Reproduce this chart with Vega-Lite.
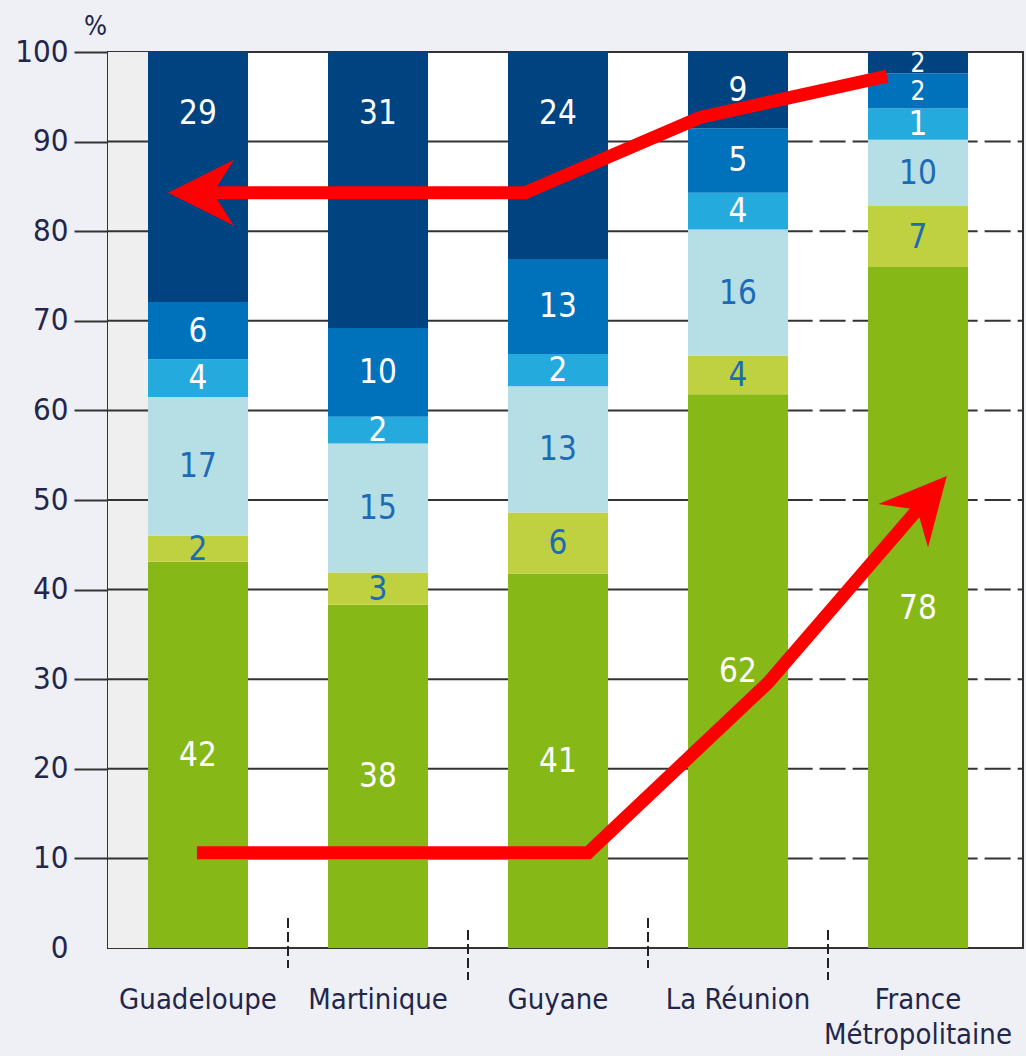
{
  "$schema": "https://vega.github.io/schema/vega-lite/v6.json",
  "width": 915,
  "height": 896,
  "autosize": {"type": "none"},
  "padding": {"left": 108, "top": 52, "right": 3, "bottom": 108},
  "background": "#eef0f6",
  "config": {
    "view": {"fill": "white", "stroke": "#333333", "strokeWidth": 2},
    "font": "'DejaVu Sans Condensed', Roboto, sans-serif",
    "axisY": {
      "grid": false,
      "domain": false,
      "tickSize": 34,
      "tickColor": "#333333",
      "tickWidth": 2,
      "labelFontSize": 31,
      "labelColor": "#23264a",
      "labelPadding": 6,
      "titleAngle": 0,
      "titleFontSize": 27,
      "titleFontWeight": "normal",
      "titleColor": "#23264a",
      "titleAlign": "center",
      "titleBaseline": "middle",
      "titleX": -13,
      "titleY": -26
    },
    "axisX": {
      "ticks": false,
      "domain": false,
      "labelAngle": 0,
      "labelFontSize": 29,
      "labelColor": "#23264a",
      "labelPadding": 37,
      "labelLineHeight": 35,
      "labelLimit": 400
    }
  },
  "datasets": {
    "shares": [
      {"region": "Guadeloupe", "cat": "A", "rank": 1, "value": 43.1, "label": 42},
      {"region": "Guadeloupe", "cat": "B", "rank": 2, "value": 2.9, "label": 2},
      {"region": "Guadeloupe", "cat": "C", "rank": 3, "value": 15.5, "label": 17},
      {"region": "Guadeloupe", "cat": "D", "rank": 4, "value": 4.2, "label": 4},
      {"region": "Guadeloupe", "cat": "E", "rank": 5, "value": 6.4, "label": 6},
      {"region": "Guadeloupe", "cat": "F", "rank": 6, "value": 27.9, "label": 29},
      {"region": "Martinique", "cat": "A", "rank": 1, "value": 38.3, "label": 38},
      {"region": "Martinique", "cat": "B", "rank": 2, "value": 3.6, "label": 3},
      {"region": "Martinique", "cat": "C", "rank": 3, "value": 14.4, "label": 15},
      {"region": "Martinique", "cat": "D", "rank": 4, "value": 3.0, "label": 2},
      {"region": "Martinique", "cat": "E", "rank": 5, "value": 9.9, "label": 10},
      {"region": "Martinique", "cat": "F", "rank": 6, "value": 30.8, "label": 31},
      {"region": "Guyane", "cat": "A", "rank": 1, "value": 41.8, "label": 41},
      {"region": "Guyane", "cat": "B", "rank": 2, "value": 6.8, "label": 6},
      {"region": "Guyane", "cat": "C", "rank": 3, "value": 14.1, "label": 13},
      {"region": "Guyane", "cat": "D", "rank": 4, "value": 3.6, "label": 2},
      {"region": "Guyane", "cat": "E", "rank": 5, "value": 10.6, "label": 13},
      {"region": "Guyane", "cat": "F", "rank": 6, "value": 23.1, "label": 24},
      {"region": "La Réunion", "cat": "A", "rank": 1, "value": 61.8, "label": 62},
      {"region": "La Réunion", "cat": "B", "rank": 2, "value": 4.3, "label": 4},
      {"region": "La Réunion", "cat": "C", "rank": 3, "value": 14.1, "label": 16},
      {"region": "La Réunion", "cat": "D", "rank": 4, "value": 4.1, "label": 4},
      {"region": "La Réunion", "cat": "E", "rank": 5, "value": 7.2, "label": 5},
      {"region": "La Réunion", "cat": "F", "rank": 6, "value": 8.5, "label": 9},
      {"region": "France Métropolitaine", "cat": "A", "rank": 1, "value": 76.0, "label": 78},
      {"region": "France Métropolitaine", "cat": "B", "rank": 2, "value": 6.8, "label": 7},
      {"region": "France Métropolitaine", "cat": "C", "rank": 3, "value": 7.4, "label": 10},
      {"region": "France Métropolitaine", "cat": "D", "rank": 4, "value": 3.5, "label": 1},
      {"region": "France Métropolitaine", "cat": "E", "rank": 5, "value": 3.9, "label": 2},
      {"region": "France Métropolitaine", "cat": "F", "rank": 6, "value": 2.4, "label": 2}
    ],
    "grid": [{"pct": 10}, {"pct": 20}, {"pct": 30}, {"pct": 40}, {"pct": 50}, {"pct": 60}, {"pct": 70}, {"pct": 80}, {"pct": 90}],
    "seps": [
      {"after": "Guadeloupe", "row": 1},
      {"after": "Martinique", "row": 2},
      {"after": "Guyane", "row": 3},
      {"after": "La Réunion", "row": 4}
    ],
    "arrows": [
      {"arrow": 1, "seq": 1, "u": 3.828, "pct": 97.3},
      {"arrow": 1, "seq": 2, "u": 2.789, "pct": 92.7},
      {"arrow": 1, "seq": 3, "u": 1.817, "pct": 84.3},
      {"arrow": 1, "seq": 4, "u": 0.017, "pct": 84.3},
      {"arrow": 2, "seq": 1, "u": -0.006, "pct": 10.64},
      {"arrow": 2, "seq": 2, "u": 2.167, "pct": 10.64},
      {"arrow": 2, "seq": 3, "u": 3.167, "pct": 29.6},
      {"arrow": 2, "seq": 4, "u": 4.039, "pct": 49.9}
    ],
    "heads": [
      {"arrow": 1, "u": 0.017, "pct": 84.3, "ang": 0},
      {"arrow": 2, "u": 4.039, "pct": 49.9, "ang": 131.3}
    ]
  },
  "resolve": {"scale": {"x": "independent"}},
  "layer": [
    {
      "layer": [
        {
          "data": {"values": [{}]},
          "mark": {"type": "rect", "color": "#efefef"},
          "encoding": {
            "x": {"datum": -0.5, "type": "quantitative", "scale": {"domain": [-0.5, 4.5833]}, "axis": null},
            "x2": {"datum": -0.2778},
            "y": {"datum": 0, "type": "quantitative", "scale": {"domain": [0, 100]}, "title": "%"},
            "y2": {"datum": 100}
          }
        },
        {
          "data": {"name": "grid"},
          "mark": {"type": "rule", "color": "#333333", "strokeWidth": 2},
          "encoding": {
            "x": {"datum": -0.5, "type": "quantitative", "scale": {"domain": [-0.5, 4.5833]}, "axis": null},
            "x2": {"datum": 3.27},
            "y": {"field": "pct", "type": "quantitative", "scale": {"domain": [0, 100]}, "title": "%"}
          }
        },
        {
          "data": {"name": "grid"},
          "mark": {"type": "rule", "color": "#333333", "strokeWidth": 2, "strokeDash": [26, 7]},
          "encoding": {
            "x": {"datum": 3.27, "type": "quantitative", "scale": {"domain": [-0.5, 4.5833]}, "axis": null},
            "x2": {"datum": 4.5833},
            "y": {"field": "pct", "type": "quantitative", "scale": {"domain": [0, 100]}, "title": "%"}
          }
        }
      ]
    },
    {
      "layer": [
        {
          "data": {"name": "shares"},
          "mark": {"type": "bar"},
          "encoding": {
            "x": {
              "field": "region",
              "type": "nominal",
              "sort": ["Guadeloupe", "Martinique", "Guyane", "La Réunion", "France Métropolitaine"],
              "scale": {
                "domain": ["Guadeloupe", "Martinique", "Guyane", "La Réunion", "France Métropolitaine"],
                "paddingInner": 0.4444,
                "paddingOuter": 0.2639,
                "align": 0.421
              },
              "title": null,
              "axis": {"labelExpr": "datum.value == 'France Métropolitaine' ? ['France', 'Métropolitaine'] : datum.label"}
            },
            "y": {
              "field": "value",
              "type": "quantitative",
              "stack": "zero",
              "scale": {"domain": [0, 100]},
              "title": "%",
              "axis": {
                "values": [0, 10, 20, 30, 40, 50, 60, 70, 80, 90, 100],
                "tickOpacity": {"expr": "datum.value == 0 ? 0 : 1"}
              }
            },
            "color": {
              "field": "cat",
              "type": "nominal",
              "scale": {
                "domain": ["A", "B", "C", "D", "E", "F"],
                "range": ["#86b817", "#bfd041", "#b6dee5", "#25aadd", "#0072bb", "#004381"]
              },
              "legend": null
            },
            "order": {"field": "rank", "type": "quantitative", "sort": "ascending"}
          }
        },
        {
          "data": {"name": "shares"},
          "transform": [
            {"stack": "value", "groupby": ["region"], "sort": [{"field": "rank", "order": "ascending"}], "as": ["v0", "v1"]},
            {"calculate": "datum.rank == 6 ? max((datum.v0 + datum.v1) / 2, 93.2) : (datum.v0 + datum.v1) / 2", "as": "mid"}
          ],
          "mark": {"type": "text", "baseline": "middle", "align": "center", "dy": 1},
          "encoding": {
            "x": {"field": "region", "type": "nominal", "title": null},
            "y": {"field": "mid", "type": "quantitative", "title": "%"},
            "text": {"field": "label", "type": "quantitative"},
            "size": {"condition": {"test": "datum.v0 > 93", "value": 26}, "value": 33},
            "color": {
              "condition": {"test": "datum.rank == 2 || datum.rank == 3", "value": "#1d6ab7"},
              "value": "#ffffff"
            }
          }
        },
        {
          "data": {"name": "seps"},
          "transform": [{"filter": "datum.row % 2 == 1"}],
          "mark": {"type": "rule", "color": "#222222", "strokeWidth": 2, "strokeDash": [10, 4]},
          "encoding": {
            "x": {"field": "after", "type": "nominal", "bandPosition": 1.4, "title": null},
            "y": {"datum": 3.35, "type": "quantitative", "title": "%"},
            "y2": {"datum": -2.23}
          }
        },
        {
          "data": {"name": "seps"},
          "transform": [{"filter": "datum.row % 2 == 0"}],
          "mark": {"type": "rule", "color": "#222222", "strokeWidth": 2, "strokeDash": [10, 4]},
          "encoding": {
            "x": {"field": "after", "type": "nominal", "bandPosition": 1.4, "title": null},
            "y": {"datum": 2.0, "type": "quantitative", "title": "%"},
            "y2": {"datum": -3.57}
          }
        }
      ]
    },
    {
      "layer": [
        {
          "data": {"name": "arrows"},
          "mark": {"type": "line", "color": "#ff0000", "strokeWidth": 13, "strokeJoin": "miter", "strokeCap": "butt"},
          "encoding": {
            "x": {"field": "u", "type": "quantitative", "scale": {"domain": [-0.5, 4.5833]}, "axis": null},
            "y": {"field": "pct", "type": "quantitative", "title": "%"},
            "detail": {"field": "arrow", "type": "nominal"},
            "order": {"field": "seq", "type": "quantitative"}
          }
        },
        {
          "data": {"name": "heads"},
          "mark": {"type": "point", "filled": true, "color": "#ff0000", "opacity": 1, "strokeWidth": 0, "size": 4356, "shape": "M -1 0 L 1 -1 L 0.36 0 L 1 1 Z"},
          "encoding": {
            "x": {"field": "u", "type": "quantitative", "scale": {"domain": [-0.5, 4.5833]}, "axis": null},
            "y": {"field": "pct", "type": "quantitative", "title": "%"},
            "angle": {"field": "ang", "type": "quantitative", "scale": null}
          }
        }
      ]
    }
  ]
}
